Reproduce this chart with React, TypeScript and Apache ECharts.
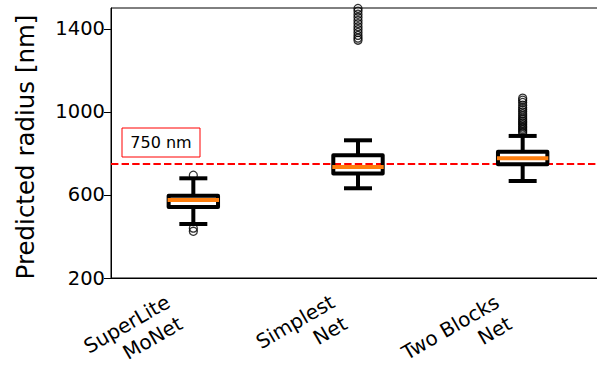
import React, { useEffect, useRef } from 'react';
import * as echarts from 'echarts';

const categories = ['SuperLite\nMoNet', 'Simplest\nNet', 'Two Blocks\nNet'];
const lowerWhisker = [460, 632, 667];
const q1 = [542, 703, 748];
const median = [575, 735, 776];
const q3 = [596, 791, 808];
const upperWhisker = [680, 863, 884];
const outliersSuperLite = [695, 440, 425];
const outliersSimplest = [1345, 1355, 1368, 1382, 1396, 1410, 1425, 1440, 1455, 1470, 1485, 1498];
const outliersTwoBlocks = [898, 906, 914, 922, 930, 938, 946, 954, 962, 970, 980, 990, 1000, 1010, 1020, 1032, 1045, 1056, 1066];
const referenceValue = 750;
const referenceLabel = '750 nm';
const yTicks = [200, 600, 1000, 1400];
const yMin = 200;
const yMax = 1500;

const FONT = 'DejaVu Sans';

export default function App() {
  const ref = useRef<HTMLDivElement>(null);
  useEffect(() => {
    if (!ref.current) return;
    const chart = echarts.init(ref.current, null, { renderer: 'svg' });
    const boxData = categories.map((_, i) => [i, lowerWhisker[i], q1[i], median[i], q3[i], upperWhisker[i]]);
    const outlierData: number[][] = [];
    [outliersSuperLite, outliersSimplest, outliersTwoBlocks].forEach((arr, i) => {
      arr.forEach((v) => outlierData.push([i, v]));
    });
    const option: any = {
      animation: false,
      backgroundColor: '#fff',
      grid: { left: 111, top: 8, bottom: 89, right: -8, show: true, borderColor: '#000', borderWidth: 1, backgroundColor: 'transparent', containLabel: false, outerBoundsMode: 'none' },
      xAxis: {
        type: 'category',
        data: categories,
        boundaryGap: true,
        axisLine: { lineStyle: { color: '#000', width: 1 } },
        axisTick: { alignWithLabel: true, length: 7, lineStyle: { color: '#000', width: 1 } },
        axisLabel: { rotate: 30, interval: 0, fontSize: 20, fontFamily: FONT, color: '#000', margin: 22, lineHeight: 25, padding: [0, 22, 0, 0] },
        splitLine: { show: false },
      },
      yAxis: {
        type: 'value',
        min: yMin,
        max: yMax,
        interval: 400,
        name: 'Predicted radius [nm]',
        nameLocation: 'middle',
        nameGap: 73,
        nameRotate: 90,
        nameTextStyle: { fontSize: 24.5, fontFamily: FONT, color: '#000', padding: [0, 0, 0, -8] },
        axisLine: { show: true, lineStyle: { color: '#000', width: 1 } },
        axisTick: { show: true, length: 7, customValues: yTicks, lineStyle: { color: '#000', width: 1 } },
        axisLabel: { fontSize: 19.5, fontFamily: FONT, color: '#000', margin: 6, customValues: yTicks, formatter: (v: number) => String(v) },
        splitLine: { show: false },
      },
      graphic: [
        {
          type: 'group',
          z: 100,
          children: [
            { type: 'rect', shape: { x: 122, y: 128, width: 78, height: 29 }, style: { fill: '#fff', stroke: '#ff0000', lineWidth: 1 } },
            { type: 'text', x: 161, y: 142.5, style: { text: referenceLabel, fontSize: 16, fontFamily: FONT, fill: '#000', align: 'center', verticalAlign: 'middle' } },
          ],
        },
      ],
      series: [
        {
          type: 'line',
          data: [],
          z: 1,
          markLine: {
            silent: true,
            symbol: ['none', 'none'],
            label: { show: false },
            lineStyle: { color: '#ff0000', width: 2, type: [7.4, 3.2] },
            data: [{ yAxis: referenceValue }],
          },
        },
        {
          type: 'custom',
          z: 5,
          data: boxData,
          encode: { x: 0, y: [1, 2, 3, 4, 5] },
          renderItem: (params: any, api: any) => {
            const x = api.value(0);
            const band = api.size([1, 0])[0];
            const bw = band * 0.3;
            const cw = band * 0.17;
            const cx = api.coord([x, api.value(1)])[0];
            const yLW = api.coord([x, api.value(1)])[1];
            const yQ1 = api.coord([x, api.value(2)])[1];
            const yMed = api.coord([x, api.value(3)])[1];
            const yQ3 = api.coord([x, api.value(4)])[1];
            const yUW = api.coord([x, api.value(5)])[1];
            const lineStyle = { stroke: '#000', lineWidth: 4 };
            return {
              type: 'group',
              children: [
                { type: 'line', shape: { x1: cx, y1: yQ1, x2: cx, y2: yLW }, style: lineStyle },
                { type: 'line', shape: { x1: cx, y1: yQ3, x2: cx, y2: yUW }, style: lineStyle },
                { type: 'line', shape: { x1: cx - cw / 2, y1: yLW, x2: cx + cw / 2, y2: yLW }, style: lineStyle },
                { type: 'line', shape: { x1: cx - cw / 2, y1: yUW, x2: cx + cw / 2, y2: yUW }, style: lineStyle },
                { type: 'rect', shape: { x: cx - bw / 2, y: yQ3, width: bw, height: yQ1 - yQ3 }, style: { fill: 'none', stroke: '#000', lineWidth: 4, lineJoin: 'round' } },
                { type: 'line', shape: { x1: cx - bw / 2 - 1, y1: yMed, x2: cx + bw / 2 + 1, y2: yMed }, style: { stroke: '#ff7f0e', lineWidth: 4 } },
              ],
            };
          },
        },
        {
          type: 'scatter',
          z: 4,
          data: outlierData,
          symbol: 'circle',
          symbolSize: 8,
          clip: true,
          itemStyle: { color: 'rgba(0,0,0,0)', borderColor: '#000', borderWidth: 1.3 },
        },
      ],
    };
    chart.setOption(option);
    return () => chart.dispose();
  }, []);
  return <div ref={ref} style={{ width: 597, height: 367, position: 'absolute', left: 0, top: 0 }} />;
}
